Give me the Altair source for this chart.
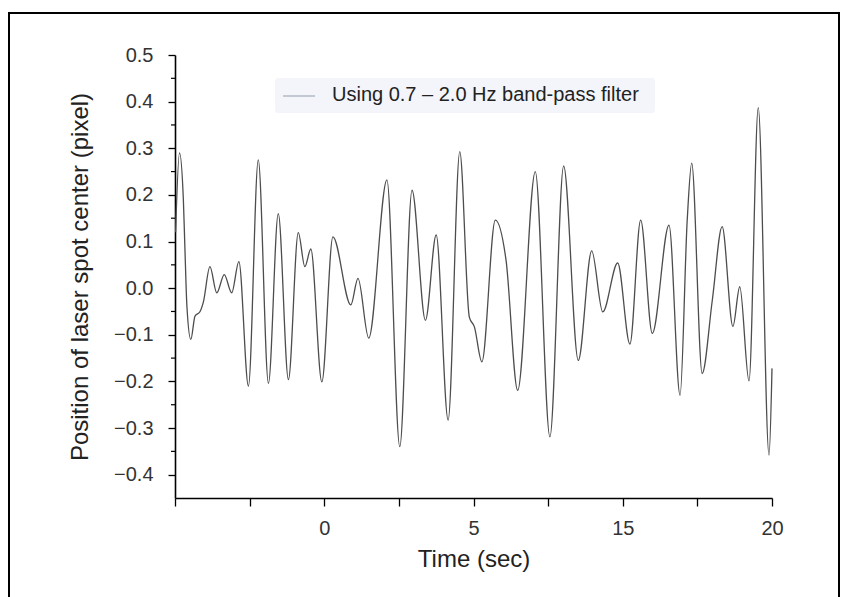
import altair as alt
import pandas as pd

# ---- data ----
time_sec = [-4.98, -4.85, -4.72, -4.67, -4.60, -4.47, -4.33, -4.16, -4.05, -3.83,
            -3.60, -3.35, -3.10, -2.86, -2.54, -2.21, -1.87, -1.54, -1.20, -0.87,
            -0.65, -0.45, -0.08, 0.29, 0.89, 1.13, 1.49, 2.10, 2.53, 2.94,
            3.39, 3.75, 4.15, 4.54, 4.86, 5.03, 5.28, 5.73, 6.09, 6.48,
            7.07, 7.56, 8.02, 8.51, 8.96, 9.33, 9.83, 10.24, 10.60, 10.99,
            11.55, 11.92, 12.16, 12.31, 12.66, 13.00, 13.33, 13.69, 13.92, 14.23,
            14.54, 14.90, 15.00]
position_px = [0.12, 0.29, 0.19, 0.09, -0.04, -0.11, -0.06, -0.05, -0.03, 0.046,
               -0.01, 0.029, -0.01, 0.057, -0.21, 0.275, -0.204, 0.16, -0.196, 0.119,
               0.046, 0.084, -0.201, 0.110, -0.036, 0.021, -0.107, 0.232, -0.34, 0.21,
               -0.069, 0.114, -0.283, 0.293, -0.062, -0.083, -0.158, 0.146, 0.06, -0.219,
               0.25, -0.319, 0.262, -0.155, 0.080, -0.051, 0.054, -0.120, 0.146, -0.097,
               0.135, -0.230, 0.146, 0.268, -0.183, -0.026, 0.132, -0.082, 0.003, -0.199,
               0.387, -0.358, -0.172]
assert len(time_sec) == len(position_px)

x_tick_values = [-5, -2.5, 0, 2.5, 5, 7.5, 10, 12.5, 15]
x_tick_labels = {0: "0", 5: "5", 10: "15", 15: "20"}
y_major = [-0.4, -0.3, -0.2, -0.1, 0.0, 0.1, 0.2, 0.3, 0.4, 0.5]
y_minor = [-0.35, -0.25, -0.15, -0.05, 0.05, 0.15, 0.25, 0.35, 0.45]
legend_label = "Using 0.7 \u2013 2.0 Hz band-pass filter"
x_title = "Time (sec)"
y_title = "Position of laser spot center (pixel)"

FONT = "Liberation Sans"
W, H = 597, 443

df = pd.DataFrame({"t": time_sec, "v": position_px})
minor_df = pd.DataFrame({"v": y_minor})

xscale = alt.Scale(domain=[-5, 15], nice=False, zero=False)
yscale = alt.Scale(domain=[-0.45, 0.5], nice=False, zero=False)

label_expr = " : ".join(
    [f"datum.value == {k} ? '{v}'" for k, v in x_tick_labels.items()]
) + " : ''"

x_axis = alt.Axis(
    values=x_tick_values, labelExpr=label_expr, grid=False,
    tickSize=8, tickColor="black", tickWidth=1.3,
    domainColor="black", domainWidth=1.6,
    labelFont=FONT, labelFontSize=20, labelColor="#333333", labelPadding=12,
    labelFlush=False,
    title=x_title, titleFont=FONT, titleFontSize=24, titleFontWeight="normal",
    titleColor="#222222", titleY=68, titleBaseline="alphabetic")

y_axis = alt.Axis(
    values=y_major, grid=False,
    labelExpr="datum.value < 0 ? '\u2212' + format(-datum.value, '.1f') : format(datum.value, '.1f')",
    tickSize=7, tickColor="black", tickWidth=1.3,
    domainColor="black", domainWidth=1.6,
    labelFont=FONT, labelFontSize=20, labelColor="#333333", labelPadding=15,
    labelFlush=False,
    title=y_title, titleFont=FONT, titleFontSize=24, titleFontWeight="normal",
    titleColor="#222222", titleX=-95, titleY=H / 2, titleBaseline="middle",
    titleAngle=270)

line = alt.Chart(df).mark_line(
    interpolate="monotone", color="#4d4d4d", strokeWidth=1.3
).encode(
    x=alt.X("t:Q", scale=xscale, axis=x_axis),
    y=alt.Y("v:Q", scale=yscale, axis=y_axis),
)

minor_ticks = alt.Chart(minor_df).mark_rule(color="black", strokeWidth=1.2).encode(
    y=alt.Y("v:Q", scale=yscale, axis=y_axis),
    x=alt.value(-4), x2=alt.value(0),
)

one = alt.Data(values=[{"k": 1}])

frame = alt.Chart(one).mark_rect(filled=False, stroke="black", strokeWidth=2).encode(
    x=alt.value(-166), x2=alt.value(664), y=alt.value(-42), y2=alt.value(560)
)

legend_bg = alt.Chart(one).mark_rect(fill="#f3f5fb", cornerRadius=3).encode(
    x=alt.value(100), x2=alt.value(480), y=alt.value(23), y2=alt.value(58)
)
legend_sym = alt.Chart(one).mark_rule(color="#a9b0bf", strokeWidth=1.3).encode(
    x=alt.value(108), x2=alt.value(140), y=alt.value(41)
)
legend_txt = alt.Chart(one).mark_text(
    align="left", baseline="middle", font=FONT, fontSize=20, color="#222222"
).encode(x=alt.value(157), y=alt.value(40), text=alt.value(legend_label))

chart = alt.layer(line, minor_ticks, legend_bg, legend_sym, legend_txt, frame).properties(
    width=W, height=H,
    padding={"left": 175, "top": 55, "right": 74, "bottom": 99},
    autosize=alt.AutoSizeParams(type="none"),
    background="white",
).configure_view(strokeWidth=0)

chart.save("out.html", embed_options={"renderer": "svg", "actions": False})
